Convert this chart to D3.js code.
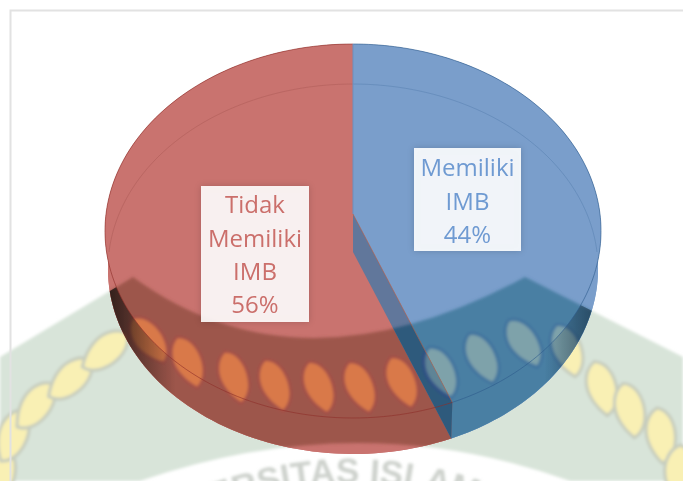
<!DOCTYPE html>
<meta charset="utf-8">
<style>
    html, body { margin: 0; padding: 0; background: #fff; }
    svg { display: block; }
</style>
<script src="https://d3js.org/d3.v7.min.js"></script>
<div id="chart"></div>
<script>

    // chart data
    var categories = ["Memiliki IMB", "Tidak Memiliki IMB"];
    var values = [44, 56];
    var labelLines = [["Memiliki", "IMB", "44%"], ["Tidak", "Memiliki", "IMB", "56%"]];

    var width = 683, height = 481;

    var svg = d3.select("#chart").append("svg")
        .attr("width", width)
        .attr("height", height);

    var defs = svg.append("defs");
    defs.append("filter").attr("id", "soft")
        .append("feGaussianBlur").attr("stdDeviation", 1.4);
    var shadow = defs.append("filter").attr("id", "boxShadow")
        .attr("x", "-15%").attr("y", "-15%").attr("width", "130%").attr("height", "130%");
    shadow.append("feDropShadow").attr("dx", 0).attr("dy", 0).attr("stdDeviation", 3)
        .attr("flood-color", "#000").attr("flood-opacity", 0.18);

    // the pie is tilted, so the circle goes through a perspective map
    function faceProjection(cx, cy, a, b, c) {
        return function(angle) {
            var u = Math.sin(angle), v = -Math.cos(angle), d = 1 - b * v;
            return [cx + c * u / d, cy + a * v / d];
        };
    }
    var topFace = faceProjection(353, 214, 185.45, 0.0909, 247);
    var bottomFace = faceProjection(353, 252, 183.4, 0.0919, 244);

    var pie = d3.pie().sort(null).value(function(d) { return d; });
    var slices = pie(values);
    var blue = slices[0], red = slices[1];

    var line = d3.line();

    function rimPoints(face, from, to) {
        return d3.range(0, 121).map(function(i) {
            return face(from + (to - from) * i / 120);
        });
    }
    function facePath(face, s) {
        return line(rimPoints(face, s.startAngle, s.endAngle).concat([face === topFace ? [353, 214] : [353, 252]])) + "Z";
    }
    function rimPath(face, from, to) { return line(rimPoints(face, from, to)); }

    // side wall is top rim forward + bottom rim back
    function wallPath(from, to) {
        return line(rimPoints(topFace, from, to).concat(rimPoints(bottomFace, from, to).reverse())) + "Z";
    }
    // the three parts of a slice, kept apart so they do not cancel out when filled
    function sliceParts(s) {
        return [facePath(bottomFace, s), facePath(topFace, s), wallPath(s.startAngle, s.endAngle)];
    }
    // wall on the cut between the two slices
    var cut = blue.endAngle;
    var cutPath = line([[353, 214], topFace(cut), bottomFace(cut), [353, 252]]) + "Z";

    // clip areas used by the watermark seen through the pie
    defs.append("clipPath").attr("id", "clipRed")
        .selectAll("path").data(sliceParts(red))
        .enter().append("path").attr("d", function(d) { return d; });
    defs.append("clipPath").attr("id", "clipBlue")
        .selectAll("path").data(sliceParts(blue))
        .enter().append("path").attr("d", function(d) { return d; });
    defs.append("clipPath").attr("id", "clipCut").append("path").attr("d", cutPath);

    // watermark behind the chart
    var bandPath = "M0,357 L133,277 Q300,399 525,277 L683,357 L683,481 L570,481 Q360,405 140,481 L0,481 Z";
    defs.append("clipPath").attr("id", "clipBand").append("path").attr("d", bandPath);
    var leaves = [
        [0, 470, 12], [12, 435, 30], [35, 405, 46], [70, 378, 56], [105, 350, 60], [148, 340, -28],
        [187, 362, -14], [233, 377, -10], [274, 385, -12], [318, 387, -12], [359, 387, -14], [401, 382, -14],
        [440, 372, -16], [481, 358, -18], [523, 343, -24], [566, 350, -12], [601, 388, -6],
        [629, 410, -4], [660, 435, 2], [678, 472, 14]
    ];
    function drawWatermark(g, bandColor, ringColor, leafColor) {
        g.append("path").attr("d", bandPath).attr("fill", bandColor);
        g.selectAll("path.leaf").data(leaves).enter().append("path")
            .attr("class", "leaf")
            .attr("d", "M-4,-28 C10,-26 18,-6 15,12 C13,22 8,27 4,29 C-6,20 -14,6 -14,-6 C-14,-16 -10,-24 -4,-28Z")
            .attr("transform", function(d) { return "translate(" + d[0] + "," + d[1] + ") rotate(" + d[2] + ") scale(0.9)"; })
            .attr("fill", leafColor)
            .attr("stroke", ringColor)
            .attr("stroke-width", 7)
            .attr("paint-order", "stroke");
    }

    drawWatermark(svg.append("g").attr("filter", "url(#soft)"), "#d8e4d9", "#c6ccbd", "#f9f0b4");

    defs.append("path").attr("id", "arcText")
        .attr("d", "M100,568 Q350,398 600,568");
    svg.append("text")
        .attr("font-family", "Liberation Sans, sans-serif")
        .attr("font-size", 35)
        .attr("font-weight", "bold")
        .attr("fill", "#cdd1cc")
        .attr("filter", "url(#soft)")
        .append("textPath")
        .attr("href", "#arcText")
        .attr("startOffset", "50%")
        .attr("text-anchor", "middle")
        .text("UNIVERSITAS ISLAM RIAU");

    // page frame
    svg.append("path").attr("d", "M683,10.5 L10.5,10.5 L10.5,481")
        .attr("fill", "none").attr("stroke", "#e2e2e2").attr("stroke-width", 2);

    // pie faces
    var redColor = "#c9736f", blueColor = "#7a9ecb";
    function drawSlice(s, color) {
        svg.append("g").selectAll("path").data(sliceParts(s)).enter().append("path")
            .attr("d", function(d) { return d; })
            .attr("fill", color);
    }
    drawSlice(blue, blueColor);
    drawSlice(red, redColor);

    drawWatermark(svg.append("g").attr("clip-path", "url(#clipBlue)").append("g").attr("filter", "url(#soft)"),
        "#4a7fa3", "#41739f", "#7ea2aa");
    drawWatermark(svg.append("g").attr("clip-path", "url(#clipRed)").append("g").attr("filter", "url(#soft)"),
        "#9d574c", "#a24f48", "#d9794a");

    // cut wall drawn over both slices
    svg.append("path").attr("d", cutPath).attr("fill", "#61779b");
    drawWatermark(svg.append("g").attr("clip-path", "url(#clipCut)").append("g").attr("filter", "url(#soft)"),
        "#2f5a7c", "#2f4f86", "#5f8496");

    // darker shade at the far ends of the side wall, only where the watermark shows
    var edgeLeft = defs.append("linearGradient").attr("id", "edgeLeft")
        .attr("gradientUnits", "userSpaceOnUse").attr("x1", 108).attr("x2", 175).attr("y1", 0).attr("y2", 0);
    edgeLeft.append("stop").attr("offset", 0).attr("stop-color", "#1d1512").attr("stop-opacity", 0.85);
    edgeLeft.append("stop").attr("offset", 1).attr("stop-color", "#1d1512").attr("stop-opacity", 0);
    var edgeRight = defs.append("linearGradient").attr("id", "edgeRight")
        .attr("gradientUnits", "userSpaceOnUse").attr("x1", 598).attr("x2", 545).attr("y1", 0).attr("y2", 0);
    edgeRight.append("stop").attr("offset", 0).attr("stop-color", "#12283a").attr("stop-opacity", 0.65);
    edgeRight.append("stop").attr("offset", 1).attr("stop-color", "#12283a").attr("stop-opacity", 0);

    var shade = svg.append("g").attr("clip-path", "url(#clipBand)");
    shade.append("path").attr("d", wallPath(red.startAngle, red.endAngle)).attr("fill", "url(#edgeLeft)");
    shade.append("path").attr("d", wallPath(blue.startAngle, blue.endAngle)).attr("fill", "url(#edgeRight)");

    // rim lines
    svg.append("path").attr("d", rimPath(bottomFace, -Math.PI / 2, 0))
        .attr("fill", "none").attr("stroke", "#8a3f3c").attr("stroke-opacity", 0.22);
    svg.append("path").attr("d", rimPath(bottomFace, 0, Math.PI / 2))
        .attr("fill", "none").attr("stroke", "#2f5b8c").attr("stroke-opacity", 0.22);
    svg.append("path").attr("d", rimPath(topFace, red.startAngle, red.endAngle))
        .attr("fill", "none").attr("stroke", "#8e2f2a").attr("stroke-opacity", 0.6);
    svg.append("path").attr("d", rimPath(topFace, blue.startAngle, blue.endAngle))
        .attr("fill", "none").attr("stroke", "#2f5b8c").attr("stroke-opacity", 0.6);
    svg.append("path").attr("d", line([[353, 44], [353, 214]]))
        .attr("stroke", "#6c8fbe").attr("fill", "none");
    svg.append("path").attr("d", line([[353, 214], topFace(cut)]))
        .attr("stroke", "#c0603f").attr("stroke-opacity", 0.5).attr("fill", "none");

    // data labels
    var labelBoxes = [
        { x: 414, y: 148, w: 107, h: 103, cy: 168, color: "#6f9ad2" },
        { x: 201, y: 186, w: 108, h: 136, cy: 205, color: "#cb6f6b" }
    ];
    labelBoxes.forEach(function(b, i) {
        var g = svg.append("g").attr("class", "label").attr("data-category", categories[i]);
        g.append("rect")
            .attr("x", b.x).attr("y", b.y).attr("width", b.w).attr("height", b.h)
            .attr("fill", "#fff").attr("fill-opacity", 0.89)
            .attr("filter", "url(#boxShadow)");
        g.selectAll("text").data(labelLines[i]).enter().append("text")
            .attr("x", b.x + b.w / 2)
            .attr("y", function(d, j) { return b.cy + j * 33.3; })
            .attr("dy", "0.35em")
            .attr("text-anchor", "middle")
            .attr("font-family", "Open Sans, sans-serif")
            .attr("font-size", 24)
            .attr("fill", b.color)
            .text(function(d) { return d; });
    });

</script>
